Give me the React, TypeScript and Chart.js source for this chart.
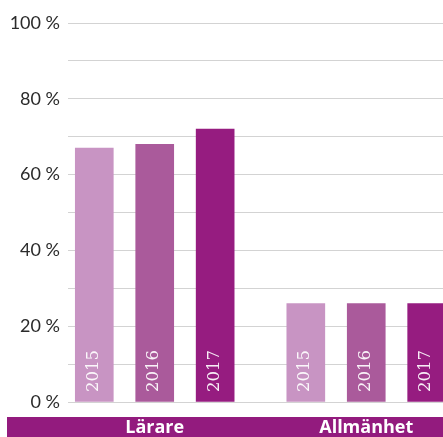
import React, { useEffect, useRef } from "react";
import { Chart, registerables } from "chart.js";

Chart.register(...registerables);

const groups = ["Lärare", "Allmänhet"];
const years = ["2015", "2016", "2017"];
const lararValues = [67, 68, 72];
const allmanhetValues = [26, 26, 26];
const yearColors = ["#c894c3", "#aa5a9b", "#961c80"];
const bandColor = "#931b7e";
const groupValues = [lararValues, allmanhetValues];
const groupStep = 3.5;

export default function App() {
  const ref = useRef<HTMLCanvasElement | null>(null);

  useEffect(() => {
    if (!ref.current) return;
    const points: { x: number; y: number }[] = [];
    const colors: string[] = [];
    const barYears: string[] = [];
    groupValues.forEach((vals, g) => {
      vals.forEach((v, i) => {
        points.push({ x: g * groupStep + i, y: v });
        colors.push(yearColors[i]);
        barYears.push(years[i]);
      });
    });

    const labelPlugin = {
      id: "barLabels",
      afterDatasetsDraw(chart: any) {
        const ctx = chart.ctx;
        const meta = chart.getDatasetMeta(0);
        meta.data.forEach((bar: any, i: number) => {
          const { x, base } = bar.getProps(["x", "base"], true);
          ctx.save();
          ctx.translate(x, base - 9.5);
          ctx.rotate(-Math.PI / 2);
          ctx.font = '16.5px "DejaVu Serif"';
          ctx.fillStyle = "rgba(255,255,255,0.92)";
          ctx.textAlign = "left";
          ctx.textBaseline = "alphabetic";
          ctx.fillText(barYears[i], 0, 3.5);
          ctx.restore();
        });
      },
    };

    const bandPlugin = {
      id: "band",
      afterDraw(chart: any) {
        const ctx = chart.ctx;
        const area = chart.chartArea;
        const xs = chart.scales.x;
        const top = area.bottom + 15;
        const h = chart.height - top;
        ctx.save();
        ctx.fillStyle = bandColor;
        ctx.fillRect(7, top, chart.width - 7, h);
        ctx.fillStyle = "#ffffff";
        ctx.font = 'bold 18px "Open Sans"';
        ctx.textAlign = "center";
        ctx.textBaseline = "middle";
        groups.forEach((g, gi) => {
          const cx = xs.getPixelForValue(gi * groupStep + (years.length - 1) / 2);
          ctx.fillText(g, cx, top + h / 2 + 1);
        });
        ctx.restore();
      },
    };

    const chart = new Chart(ref.current, {
      type: "bar",
      data: {
        datasets: [
          {
            data: points as any,
            backgroundColor: colors,
            borderWidth: 0,
            barThickness: 38,
          } as any,
        ],
      },
      options: {
        animation: false,
        responsive: true,
        maintainAspectRatio: false,
        layout: { padding: { top: 23, bottom: 35, left: 0, right: 0 } },
        plugins: { legend: { display: false }, tooltip: { enabled: false } },
        scales: {
          x: {
            type: "linear",
            display: false,
            offset: false,
            min: -0.435,
            max: 5.77,
          },
          y: {
            min: 0,
            max: 100,
            border: { display: false },
            grid: { color: "#d3d3d3", lineWidth: 1, drawTicks: false },
            ticks: {
              stepSize: 10,
              padding: 8,
              color: "#2b2b2b",
              font: { family: "Lato", size: 18 },
              callback: (v: any) => (Number(v) % 20 === 0 ? `${v} %` : ""),
            },
            afterFit: (s: any) => {
              s.width = 68;
            },
          },
        },
      },
      plugins: [labelPlugin, bandPlugin],
    });
    return () => chart.destroy();
  }, []);

  return (
    <div style={{ position: "absolute", left: 0, top: 0, width: 443, height: 437 }}>
      <canvas ref={ref} />
    </div>
  );
}
